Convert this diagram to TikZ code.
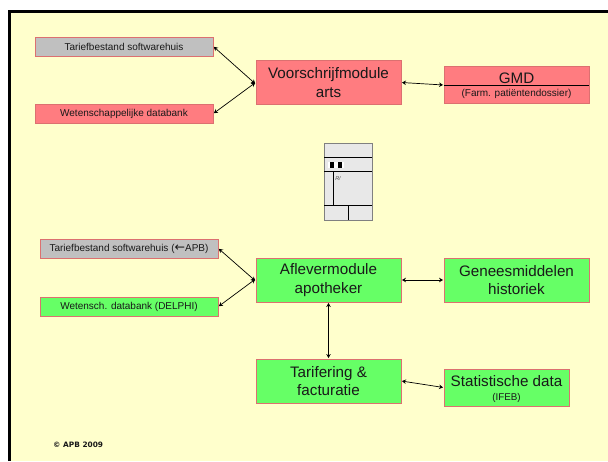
\documentclass[tikz,border=0pt]{standalone}
\usepackage{fontspec}
\setmainfont{Liberation Sans}
\newfontfamily\djv{DejaVu Sans}
\usetikzlibrary{arrows.meta}
\definecolor{bgy}{HTML}{FFFFCC}
\definecolor{rd}{HTML}{FF7C80}
\definecolor{gn}{HTML}{66FF66}
\definecolor{gy}{HTML}{C0C0C0}
\definecolor{bd}{HTML}{DC7070}
\definecolor{dev}{HTML}{E8E8E8}
\tikzset{
  x=1pt,y=-1pt,
  box/.style={draw=bd,line width=0.9pt,inner sep=0pt,align=center,text=black!90},
  big/.style={box,minimum width=145pt,minimum height=44pt,font=\fontsize{15.2}{18.5}\selectfont},
  small/.style={box,minimum width=178pt,minimum height=19pt,font=\fontsize{10}{11}\selectfont},
  lab/.style={inner sep=0pt,text=black!90},
  link/.style={{Stealth[length=4pt,width=4.5pt]}-{Stealth[length=4pt,width=4.5pt]},line width=0.7pt,black,shorten <=0.5pt,shorten >=0.5pt},
  devline/.style={black,line width=0.8pt}
}
\begin{document}
\begin{tikzpicture}
\useasboundingbox (0,0) rectangle (608,461);
\fill[white] (0,0) rectangle (608,461);
\fill[bgy] (9.5,11) rectangle (608,461);
\draw[black,line width=3pt] (9.5,461) -- (9.5,11) -- (608,11);

\node[small,fill=gy] (t1) at (124,46.5) {Tariefbestand softwarehuis};
\node[small,fill=rd] (w1) at (124,113.5) {Wetenschappelijke databank};
\node[big,fill=rd] (v) at (328.5,82.5) {Voorschrijfmodule\\arts};
\node[box,fill=rd,minimum width=145pt,minimum height=37pt] (g) at (516.5,85) {};
\node[lab,font=\fontsize{15.2}{16}\selectfont] (g1) at (516.5,78.5) {GMD};
\node[lab,font=\fontsize{10}{11}\selectfont] (g2) at (516.5,94) {(Farm. patiëntendossier)};
\draw[black,line width=0.7pt] (g.west) -- (g.east);

\node[small,fill=gy] (t2) at (129,248.5) {Tariefbestand softwarehuis ({\djv\fontsize{12.5}{11}\selectfont ←}APB)};
\node[small,fill=gn] (w2) at (129,306.5) {Wetensch. databank (DELPHI)};
\node[big,fill=gn] (a) at (328.5,280) {Aflevermodule\\apotheker};
\node[big,fill=gn] (h) at (516.5,280) {Geneesmiddelen\\historiek};
\node[big,fill=gn] (f) at (328.5,381) {Tarifering \&\\facturatie};
\node[box,fill=gn,minimum width=125pt,minimum height=37pt] (s) at (506.5,387.5) {};
\node[lab,font=\fontsize{15.2}{16}\selectfont] (s1) at (506.5,381.5) {Statistische data};
\node[lab,font=\fontsize{9.8}{11}\selectfont] (s2) at (506.5,397.5) {(IFEB)};

\node[lab,font=\fontsize{7.4}{9}\selectfont\djv\bfseries,anchor=west] (c) at (53,445) {© APB 2009};

% device
\node[draw=black!50,line width=1pt,fill=dev,minimum width=48pt,minimum height=77pt,inner sep=0pt] (d) at (348,181.5) {};
\coordinate (dl1) at (324,157.5); \coordinate (dr1) at (372,157.5);
\coordinate (dl2) at (324,171.5); \coordinate (dr2) at (372,171.5);
\coordinate (dl3) at (324,205.5); \coordinate (dr3) at (372,205.5);
\draw[devline] (dl1) -- (dr1);
\draw[devline] (dl2) -- (dr2);
\draw[devline] (dl3) -- (dr3);
\fill[white] (328,162) rectangle (344,168);
\fill[black] (330,162) rectangle (333.5,168);
\fill[black] (338,162) rectangle (341.5,168);
\draw[devline] (333.5,171.5) -- (333.5,205.5);
\draw[devline] (348.5,205.5) -- (348.5,220);
\node[lab,font=\fontsize{5.5}{6}\selectfont\itshape,text=black!70] (r) at (338,178.5) {R/};

% connectors
\draw[link] (t1.east) -- ([yshift=-1.5pt]v.west);
\draw[link] (w1.east) -- (v.west);
\draw[link] (v.east) -- (g.west);
\draw[link] (t2.east) -- ([yshift=-1pt]a.west);
\draw[link] (w2.east) -- ([yshift=1pt]a.west);
\draw[link] (a.east) -- (h.west);
\draw[link] (a.south) -- (f.north);
\draw[link] (f.east) -- (s.west);
\end{tikzpicture}
\end{document}
